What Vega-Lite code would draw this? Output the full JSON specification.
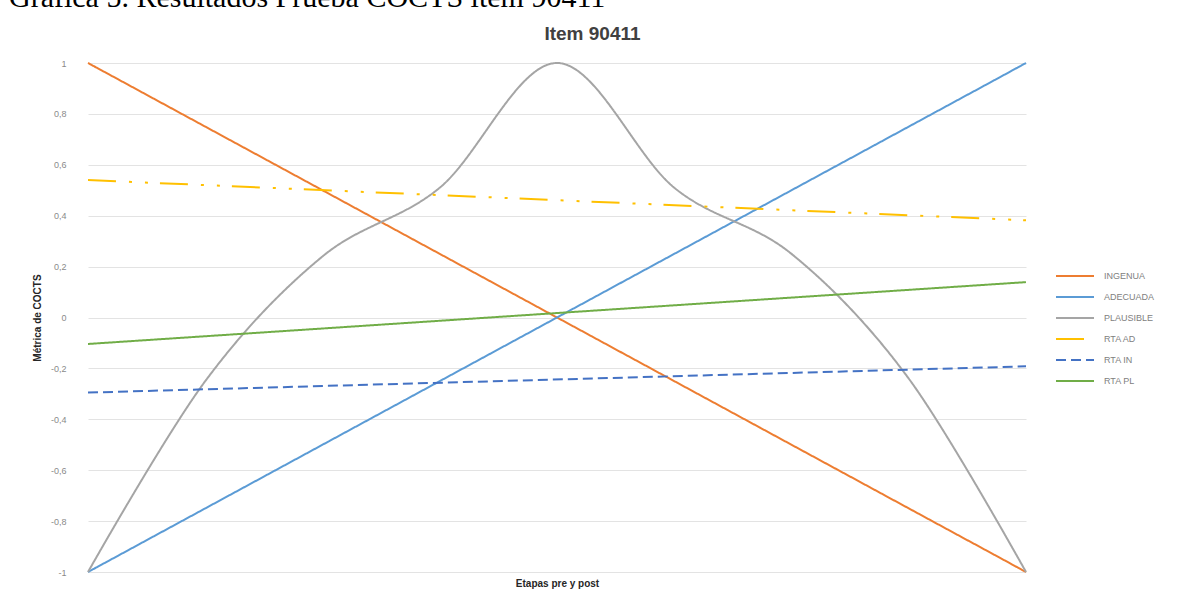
{
  "$schema": "https://vega.github.io/schema/vega-lite/v6.json",
  "width": 938,
  "height": 509,
  "autosize": {"type": "none"},
  "padding": {"left": 88, "top": 63, "right": 158, "bottom": 27},
  "background": "white",
  "title": {
    "text": "Gráfica 5. Resultados Prueba COCTS ítem 90411",
    "anchor": "start",
    "frame": "group",
    "dx": -79,
    "dy": 18,
    "font": "Liberation Serif",
    "fontSize": 30,
    "fontWeight": "normal",
    "color": "#000000",
    "baseline": "alphabetic",
    "offset": 5
  },
  "data": {
    "values": [
      {"x": 1, "y": 1, "series": "INGENUA"},
      {"x": 5, "y": 0, "series": "INGENUA"},
      {"x": 9, "y": -1, "series": "INGENUA"},
      {"x": 1, "y": -1, "series": "ADECUADA"},
      {"x": 5, "y": 0, "series": "ADECUADA"},
      {"x": 9, "y": 1, "series": "ADECUADA"},
      {"x": 1, "y": -1, "series": "PLAUSIBLE"},
      {"x": 2, "y": -0.25, "series": "PLAUSIBLE"},
      {"x": 3, "y": 0.24, "series": "PLAUSIBLE"},
      {"x": 4, "y": 0.51, "series": "PLAUSIBLE"},
      {"x": 5, "y": 1, "series": "PLAUSIBLE"},
      {"x": 6, "y": 0.51, "series": "PLAUSIBLE"},
      {"x": 7, "y": 0.25, "series": "PLAUSIBLE"},
      {"x": 8, "y": -0.24, "series": "PLAUSIBLE"},
      {"x": 9, "y": -1, "series": "PLAUSIBLE"},
      {"x": 1, "y": 0.54, "series": "RTA AD"},
      {"x": 9, "y": 0.382, "series": "RTA AD"},
      {"x": 1, "y": -0.295, "series": "RTA IN"},
      {"x": 9, "y": -0.192, "series": "RTA IN"},
      {"x": 1, "y": -0.104, "series": "RTA PL"},
      {"x": 9, "y": 0.139, "series": "RTA PL"}
    ]
  },
  "layer": [
    {
      "mark": {"type": "line", "interpolate": "cardinal"},
      "encoding": {
        "x": {
          "field": "x",
          "type": "quantitative",
          "scale": {"domain": [1, 9], "nice": false, "zero": false},
          "axis": {
            "orient": "bottom",
            "title": "Etapas pre y post",
            "labels": false,
            "ticks": false,
            "domain": false,
            "grid": false,
            "titleFont": "Liberation Sans",
            "titleFontSize": 10,
            "titleFontWeight": "bold",
            "titleColor": "#262626",
            "titlePadding": 6
          }
        },
        "y": {
          "field": "y",
          "type": "quantitative",
          "scale": {"domain": [-1, 1], "nice": false, "zero": false},
          "axis": {
            "title": "Métrica de COCTS",
            "values": [-1, -0.8, -0.6, -0.4, -0.2, 0, 0.2, 0.4, 0.6, 0.8, 1],
            "labelExpr": "replace(replace(format(datum.value, '.1~f'), '.', ','), '−', '-')",
            "domain": false,
            "ticks": false,
            "grid": true,
            "gridColor": "#e3e3e3",
            "gridWidth": 1,
            "labelFont": "Liberation Sans",
            "labelFontSize": 9,
            "labelColor": "#8a8a8a",
            "labelPadding": 22,
            "titleFont": "Liberation Sans",
            "titleFontSize": 10,
            "titleFontWeight": "bold",
            "titleColor": "#262626",
            "titlePadding": 8
          }
        },
        "color": {
          "field": "series",
          "type": "nominal",
          "scale": {
            "domain": ["INGENUA", "ADECUADA", "PLAUSIBLE", "RTA AD", "RTA IN", "RTA PL"],
            "range": ["#ED7D31", "#5B9BD5", "#A5A5A5", "#FFC000", "#4472C4", "#70AD47"]
          },
          "legend": {
            "title": null,
            "orient": "none",
            "legendX": 976.5,
            "legendY": 202.5,
            "symbolType": "M-2,0L2,0",
            "symbolSize": 361,
            "labelOffset": 18.5,
            "labelFont": "Liberation Sans",
            "labelFontSize": 9,
            "labelColor": "#808080",
            "rowPadding": 5
          }
        },
        "strokeDash": {
          "field": "series",
          "type": "nominal",
          "scale": {
            "domain": ["INGENUA", "ADECUADA", "PLAUSIBLE", "RTA AD", "RTA IN", "RTA PL"],
            "range": [[1, 0], [1, 0], [1, 0], [28, 13, 3, 13, 3, 12], [10, 5], [1, 0]]
          },
          "legend": {
            "title": null,
            "orient": "none",
            "legendX": 976.5,
            "legendY": 202.5,
            "symbolType": "M-2,0L2,0",
            "symbolSize": 361,
            "labelOffset": 18.5,
            "labelFont": "Liberation Sans",
            "labelFontSize": 9,
            "labelColor": "#808080",
            "rowPadding": 5
          }
        },
        "strokeWidth": {
          "field": "series",
          "type": "nominal",
          "scale": {
            "domain": ["INGENUA", "ADECUADA", "PLAUSIBLE", "RTA AD", "RTA IN", "RTA PL"],
            "range": [2, 2, 2, 3, 2.5, 1.3]
          },
          "legend": {
            "title": null,
            "orient": "none",
            "legendX": 976.5,
            "legendY": 202.5,
            "symbolType": "M-2,0L2,0",
            "symbolSize": 361,
            "labelOffset": 18.5,
            "labelFont": "Liberation Sans",
            "labelFontSize": 9,
            "labelColor": "#808080",
            "rowPadding": 5
          }
        }
      }
    },
    {
      "mark": {"type": "point", "opacity": 0},
      "encoding": {
        "x": {
          "field": "x",
          "type": "quantitative",
          "axis": {
            "orient": "top",
            "title": "Item 90411",
            "labels": false,
            "ticks": false,
            "domain": false,
            "grid": false,
            "titleFont": "Liberation Sans",
            "titleFontSize": 19,
            "titleFontWeight": "bold",
            "titleColor": "#404040",
            "titleX": 504,
            "titleY": -24,
            "titleBaseline": "alphabetic"
          }
        }
      }
    }
  ],
  "resolve": {"axis": {"x": "independent"}},
  "config": {"view": {"stroke": null}}
}
